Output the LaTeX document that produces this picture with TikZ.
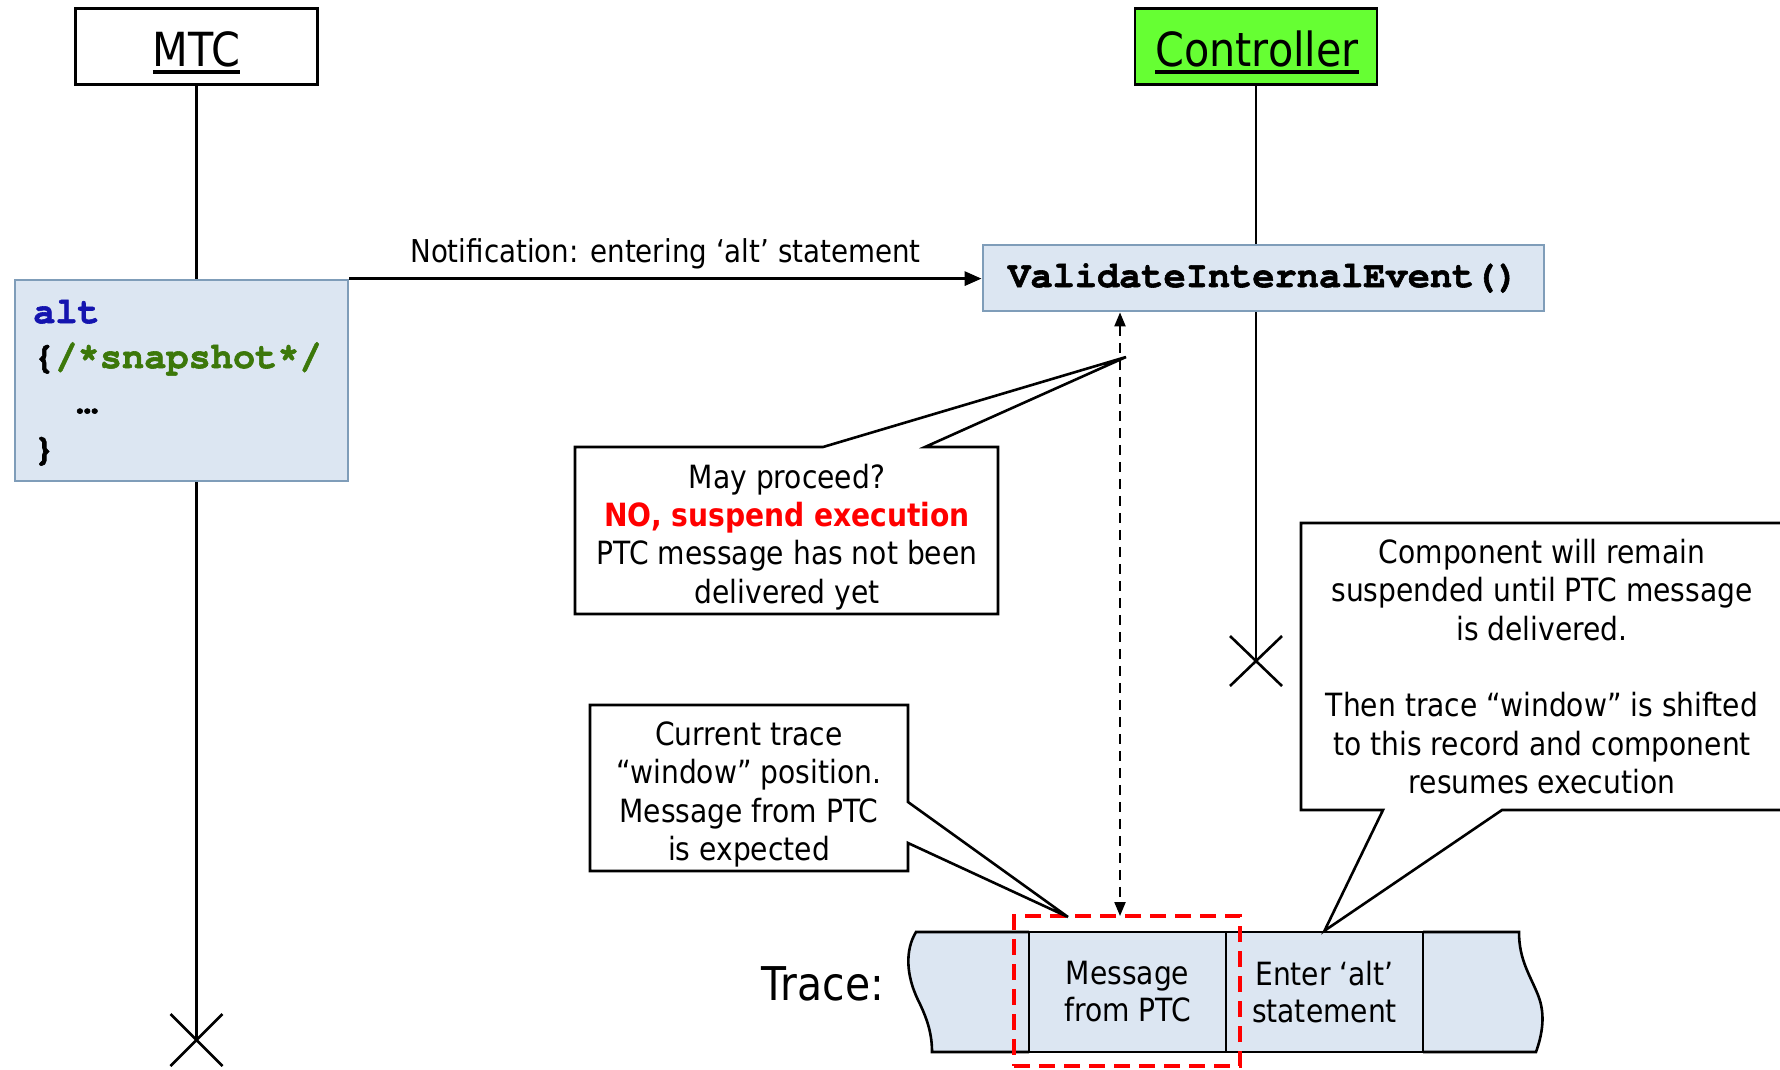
\documentclass[tikz,border=0pt]{standalone}
\usepackage{fontspec}
\setmainfont{DejaVu Sans}[FakeStretch=0.88]
\newfontfamily\codefont{texgyrecursor-bold.otf}[FakeBold=1.6]
\usetikzlibrary{arrows.meta,shapes.misc}

\definecolor{boxfill}{RGB}{220,230,242}
\definecolor{boxedge}{RGB}{127,157,185}
\definecolor{ctrlgreen}{RGB}{102,255,51}
\definecolor{kwblue}{RGB}{20,20,175}
\definecolor{cmtgreen}{RGB}{60,120,10}

% underlined instance name
\newsavebox\ulbox
\newcommand\ulabel[1]{\sbox\ulbox{#1}\rlap{\rule[-7.5pt]{\wd\ulbox}{3.3pt}}\usebox\ulbox}

\begin{document}
\begin{tikzpicture}[x=1pt,y=-1pt,
  lifeline/.style={line width=2.6pt},
  headbox/.style={draw, line width=2.6pt, minimum width=242pt, minimum height=76pt, inner sep=0pt},
  headtext/.style={font=\fontsize{47}{56}\selectfont, anchor=base, inner sep=0pt},
  bluebox/.style={draw=boxedge, fill=boxfill, line width=2.8pt, inner sep=0pt},
  codetext/.style={font=\codefont\fontsize{37}{45}\selectfont, anchor=base west, inner sep=0pt},
  bodytext/.style={font=\fontsize{32}{38.3}\selectfont, align=center, inner sep=0pt},
  callout/.style={draw, fill=white, line width=2.6pt, line join=miter},
  endmark/.style={cross out, draw, line width=2.6pt, inner sep=0pt, outer sep=0pt},
  msgarrow/.style={line width=3pt, -{Triangle[length=17pt,width=14pt]}},
  syncarrow/.style={line width=2.2pt, dash pattern=on 10pt off 7pt,
    {Triangle[length=14pt,width=11pt]}-{Triangle[length=14pt,width=11pt]}},
  tracecell/.style={draw, fill=boxfill, line width=2.6pt, minimum width=197pt, minimum height=120pt,
    inner sep=0pt, align=center, font=\fontsize{32}{37}\selectfont},
  tapeend/.style={fill=boxfill, draw, line width=2.6pt},
  window/.style={draw=red, line width=4.2pt, dash pattern=on 16pt off 9pt, outer sep=0pt}
]
\useasboundingbox (0,0) rectangle (1780,1069);
\clip (0,0) rectangle (1780,1069);

% instance heads
\node[headbox] (mtc) at (196.5,46.5) {};
\node[headbox, fill=ctrlgreen] (ctrl) at (1256,46.5) {};
\node[headtext] (mtclabel) at (196.5,66) {\ulabel{MTC}};
\node[headtext] (ctrllabel) at (1257,66) {\ulabel{Controller}};

% lifelines and their ends
\coordinate (mtcend) at (196.5,1040);
\coordinate (ctrlend) at (1256,661);
\draw[lifeline] (mtc) -- (mtcend);
\draw[line width=2.2pt] (ctrl) -- (ctrlend);
\node[endmark, minimum width=52pt, minimum height=52pt] (mtcx) at (mtcend) {};
\node[endmark, minimum width=52pt, minimum height=50pt] (ctrlx) at (ctrlend) {};

% alt statement on the MTC
\node[bluebox, minimum width=333pt, minimum height=201pt] (altbox) at (181.5,380.5) {};
\node[codetext] (code1) at (33,323) {\textcolor{kwblue}{alt}};
\node[codetext] (code2) at (33,368) {\{\textcolor{cmtgreen}{/*snapshot*/}};
\node[codetext] (code3) at (76,413) {…};
\node[codetext] (code4) at (33,460) {\}};

% controller validation
\node[bluebox, minimum width=561pt, minimum height=66pt, font=\codefont\fontsize{37}{45}\selectfont]
  (val) at (1263.5,278) {ValidateInternalEvent()};

\draw[msgarrow] (altbox.north east) -- (altbox.north east -| val.west);
\node[anchor=base, inner sep=0pt, font=\fontsize{31.5}{36}\selectfont] (note) at (665.5,262)
  {Notification: entering ‘alt’ statement};

% trace tape
\coordinate (tapetl) at (1029,932);
\coordinate (tapebl) at (1029,1052);
\coordinate (tapetr) at (1423,932);
\coordinate (tapebr) at (1423,1052);
\path[tapeend] (tapetl) -- (916,932) .. controls (905,950) and (906,975) .. (918,1000)
  .. controls (928,1020) and (932,1035) .. (932,1052) -- (tapebl);
\path[tapeend] (tapetr) -- (1519,932) .. controls (1519,960) and (1530,975) .. (1538,995)
  .. controls (1546,1015) and (1542,1035) .. (1536,1052) -- (tapebr);
\node[tracecell] (cellmsg) at (1127.5,992) {Message\\from PTC};
\node[tracecell] (cellalt) at (1324.5,992) {Enter ‘alt’\\statement};
\node[anchor=base, inner sep=0pt, font=\fontsize{46.5}{54}\selectfont] (tracelabel) at (823,1000) {Trace:};

% current trace window
\node[window, minimum width=226pt, minimum height=150pt] (win) at (1127,991) {};
\coordinate (syncx) at (1120,0);
\draw[syncarrow] (val.south -| syncx) -- (win.north -| syncx);

% callouts
\coordinate (tip1) at (1126,357);
\draw[callout] (575,447) -- (823,447) -- (tip1) -- (925,447) -- (998,447) -- (998,614) -- (575,614) -- cycle;
\node[bodytext] (call1) at (787,537)
  {May proceed?\\\textbf{\textcolor{red}{NO, suspend execution}}\\PTC message has not been\\delivered yet};

\coordinate (tip2) at (1068,917);
\draw[callout] (590,705) -- (908,705) -- (908,802) -- (tip2) -- (908,843) -- (908,871) -- (590,871) -- cycle;
\node[bodytext] (call2) at (749,794.5)
  {Current trace\\“window” position.\\Message from PTC\\is expected};

\draw[callout] (1301,523) -- (1795,523) -- (1795,810) -- (1502,810) -- (cellalt.north) -- (1383,810) -- (1301,810) -- cycle;
\node[bodytext] (call3) at (1542,666.6)
  {Component will remain\\suspended until PTC message\\is delivered.\\[38.3pt]Then trace “window” is shifted\\to this record and component\\resumes execution};
\end{tikzpicture}
\end{document}
